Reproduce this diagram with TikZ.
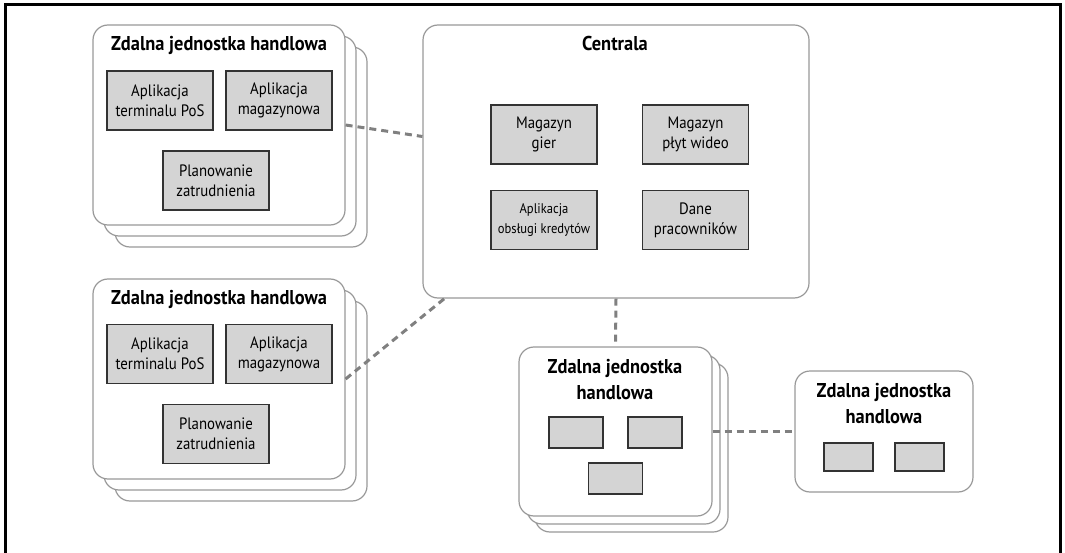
\documentclass[tikz,border=0pt]{standalone}
\usepackage{fontspec}
\setmainfont{PT Sans}[FakeStretch=0.9, BoldFeatures={FakeStretch=0.92}]
\usepackage{tikz}

\begin{document}
\begin{tikzpicture}[x=1pt, y=-1pt,
    card/.style={draw=black!40, line width=1.2pt, fill=white, rounded corners=15pt, inner sep=0pt},
    app/.style={draw=black!80, line width=1.2pt, fill=black!17, inner sep=0pt,
        minimum width=106pt, minimum height=59pt, align=center, font=\fontsize{16.5}{20}\selectfont},
    blank/.style={draw=black!80, line width=1.2pt, fill=black!17, inner sep=0pt},
    title/.style={anchor=north, inner sep=0pt, align=center, font=\fontsize{20}{26}\selectfont\bfseries},
    link/.style={draw=black!50, line width=3pt, dash pattern=on 7pt off 5pt}]
    \useasboundingbox (0,0) rectangle (1065,553);
    \draw[line width=3pt] (5,553) -- (5,5) -- (1060,5) -- (1060,553); % frame

    % zdalne jednostki po lewej
    \foreach \d in {22,11,0} {
        \node[card, minimum width=252pt, minimum height=200pt] (tl\d) at (219+\d,125+\d) {};
        \node[card, minimum width=252pt, minimum height=200pt] (bl\d) at (219+\d,379+\d) {};
    }
    \node[title] (tltitle) at (219,36) {Zdalna jednostka handlowa};
    \node[app] (tlpos) at (160,100.5) {Aplikacja\\terminalu PoS};
    \node[app] (tlmag) at (279,100.5) {Aplikacja\\magazynowa};
    \node[app] (tlplan) at (216,180.5) {Planowanie\\zatrudnienia};

    \node[title] (bltitle) at (219,290) {Zdalna jednostka handlowa};
    \node[app] (blpos) at (160,354) {Aplikacja\\terminalu PoS};
    \node[app] (blmag) at (279,354) {Aplikacja\\magazynowa};
    \node[app] (blplan) at (216,434) {Planowanie\\zatrudnienia};

    % centrala
    \node[card, minimum width=386pt, minimum height=273pt] (hq) at (616,161.5) {};
    \node[title] (hqtitle) at (615,36) {Centrala};
    \node[app] (games) at (544,134.5) {Magazyn\\gier};
    \node[app] (videos) at (695.5,134.5) {Magazyn\\płyt wideo};
    \node[app, font=\fontsize{14}{20}\selectfont] (credit) at (544,220) {Aplikacja\\obsługi kredytów};
    \node[app] (staff) at (695.5,220) {Dane\\pracowników};

    % zdalne jednostki na dole
    \foreach \d in {16,8,0}
        \node[card, minimum width=193pt, minimum height=169pt] (bm\d) at (615.5+\d,431.5+\d) {};
    \node[title] (bmtitle) at (615,359) {Zdalna jednostka\\handlowa};
    \node[blank, minimum width=54pt, minimum height=31pt] (bma) at (576,432.5) {};
    \node[blank, minimum width=54pt, minimum height=31pt] (bmb) at (655,432.5) {};
    \node[blank, minimum width=54pt, minimum height=31pt] (bmc) at (615.5,478.5) {};

    \node[card, minimum width=178pt, minimum height=121pt] (br) at (884,431.5) {};
    \node[title] (brtitle) at (884,383) {Zdalna jednostka\\handlowa};
    \node[blank, minimum width=49pt, minimum height=28pt] (bra) at (848.5,457) {};
    \node[blank, minimum width=49pt, minimum height=28pt] (brb) at (919.5,457) {};

    % polaczenia
    \draw[link] (tl0.east) -- ([yshift=25pt]hq.west);
    \draw[link] (bl0.east) -- ([xshift=22pt]hq.south west);
    \draw[link] (hq.south) -- (bm0.north);
    \draw[link] (bm0.east) -- (br.west);
\end{tikzpicture}
\end{document}
